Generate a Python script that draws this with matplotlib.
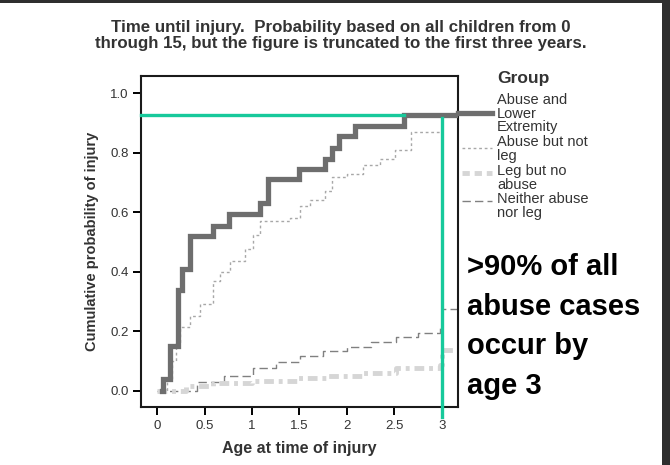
import numpy as np
import matplotlib
matplotlib.use("Agg")
import matplotlib.pyplot as plt
from matplotlib.patches import Rectangle
from matplotlib.lines import Line2D

plt.rcParams['font.family'] = ['Liberation Sans', 'DejaVu Sans']

# step data (age in years, cumulative probability)
abuse_leg_t = [0.05, 0.06, 0.13, 0.22, 0.26, 0.34, 0.59, 0.76, 1.08, 1.17, 1.50, 1.77, 1.84, 1.92, 2.09, 2.60]
abuse_leg_p = [0.00, 0.04, 0.15, 0.34, 0.41, 0.52, 0.555, 0.595, 0.63, 0.71, 0.745, 0.78, 0.815, 0.855, 0.89, 0.927]

abuse_noleg_t = [0.05, 0.10, 0.15, 0.20, 0.24, 0.35, 0.45, 0.59, 0.66, 0.77, 0.93, 1.01, 1.08, 1.40, 1.51,
                 1.61, 1.77, 1.84, 2.00, 2.17, 2.35, 2.51, 2.68, 2.98]
abuse_noleg_p = [0.00, 0.04, 0.10, 0.16, 0.215, 0.25, 0.29, 0.37, 0.40, 0.435, 0.475, 0.525, 0.57, 0.58, 0.62,
                 0.64, 0.67, 0.72, 0.73, 0.76, 0.78, 0.81, 0.87, 0.87]

leg_noabuse_t = [0.0, 0.30, 0.59, 1.00, 1.47, 1.80, 2.17, 2.52, 2.98, 3.00, 3.17]
leg_noabuse_p = [0.0, 0.015, 0.025, 0.033, 0.042, 0.050, 0.058, 0.075, 0.086, 0.137, 0.137]

neither_t = [0.0, 0.42, 0.70, 1.01, 1.25, 1.51, 1.75, 2.00, 2.25, 2.52, 2.75, 2.98, 3.00, 3.17]
neither_p = [0.0, 0.03, 0.05, 0.075, 0.095, 0.117, 0.133, 0.148, 0.163, 0.18, 0.195, 0.21, 0.275, 0.275]

group_labels = ['Abuse and\nLower\nExtremity', 'Abuse but not\nleg', 'Leg but no\nabuse', 'Neither abuse\nnor leg']

W, H = 670, 465


def fx(x):
    return x / W


def fy(y):
    return 1 - y / H


fig = plt.figure(figsize=(6.7, 4.65), dpi=100, facecolor='#2e2e2e')
fig.patches.append(Rectangle((0, 0), fx(662), fy(3), transform=fig.transFigure,
                             facecolor='white', edgecolor='none', zorder=-10))

ax = fig.add_axes([fx(141), fy(407), fx(458) - fx(141), fy(76) - fy(407)])
ax.set_xlim(-0.172, 3.172)
ax.set_ylim(-0.055, 1.058)

grey_txt = '#333333'

# curves
ax.step(neither_t, neither_p, where='post', color='#808080', lw=1.0, dashes=(6, 3), zorder=2)
ax.step(leg_noabuse_t, leg_noabuse_p, where='post', color='#d6d6d6', lw=3.5,
        dashes=(2.0, 1.0, 0.8, 1.0), zorder=2)
ax.step(abuse_noleg_t, abuse_noleg_p, where='post', color='#a8a8a8', lw=1.0, dashes=(2, 2), zorder=3)
ax.step(abuse_leg_t + [3.172], abuse_leg_p + [abuse_leg_p[-1]], where='post',
        color='#6e6e6e', lw=3.8, zorder=4, solid_joinstyle='miter')

# green highlight lines
green = '#17c99b'
ax.plot([-0.172, 2.60], [0.927, 0.927], color=green, lw=2.4, zorder=5, clip_on=False)
ax.plot([3.0, 3.0], [0.918, -0.088], color=green, lw=2.4, zorder=5, clip_on=False)

ax.set_xticks([0, 0.5, 1, 1.5, 2, 2.5, 3])
ax.set_xticklabels(['0', '0.5', '1', '1.5', '2', '2.5', '3'])
ax.set_yticks([0.0, 0.2, 0.4, 0.6, 0.8, 1.0])
ax.set_yticklabels(['0.0', '0.2', '0.4', '0.6', '0.8', '1.0'])
ax.tick_params(direction='out', length=6, width=1.4, labelsize=9.5, labelcolor=grey_txt, pad=3)
for s in ax.spines.values():
    s.set_linewidth(1.5)
    s.set_color('#1a1a1a')

ax.set_xlabel('Age at time of injury', fontsize=11.5, fontweight='bold', color=grey_txt, labelpad=7)
ax.set_ylabel('Cumulative probability of injury', fontsize=10.5, fontweight='bold', color=grey_txt, labelpad=8)

# title
fig.text(fx(341), fy(35.5), 'Time until injury.  Probability based on all children from 0\n'
         'through 15, but the figure is truncated to the first three years.',
         ha='center', va='center', fontsize=12.2, fontweight='bold', color=grey_txt, linespacing=1.05)

# legend drawn by hand
fig.text(fx(497), fy(79), 'Group', ha='left', va='center', fontsize=12.5, fontweight='bold', color=grey_txt)
text_tops = [93, 135, 164, 192]
sample_y = [113, 148, 173, 201]
styles = [dict(color='#6e6e6e', lw=3.8),
          dict(color='#a8a8a8', lw=1.0, dashes=(2, 2)),
          dict(color='#d6d6d6', lw=3.5, dashes=(1.5, 1.0)),
          dict(color='#808080', lw=1.0, dashes=(6, 3))]
for lab, ty, sy, st in zip(group_labels, text_tops, sample_y, styles):
    fig.text(fx(497), fy(ty), lab, ha='left', va='top', fontsize=10.5, color=grey_txt, linespacing=0.96)
    x0 = 458 if lab.startswith('Abuse and') else 462
    fig.add_artist(Line2D([fx(x0), fx(492)], [fy(sy), fy(sy)], transform=fig.transFigure, **st))

# annotation
fig.text(fx(467), fy(326.5), '>90% of all\nabuse cases\noccur by\nage 3', ha='left', va='center',
         fontsize=21, fontweight='bold', color='black', linespacing=1.53)

fig.savefig('out.png', dpi=100, facecolor=fig.get_facecolor())
